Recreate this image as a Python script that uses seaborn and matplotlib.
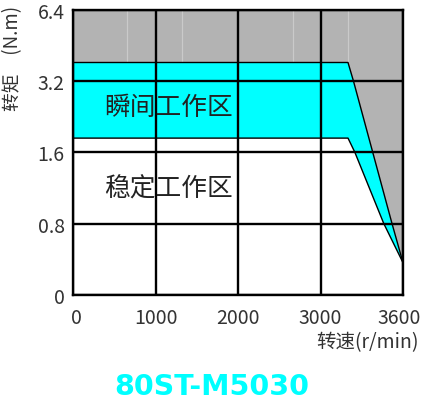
import numpy as np
import seaborn as sns
from matplotlib import pyplot as plt
from matplotlib import transforms

# tick values (axes are spaced evenly between these)
speed_ticks = [0, 1000, 2000, 3000, 3600]
torque_ticks = [0, 0.8, 1.6, 3.2, 6.4]

# peak torque curve (top of the cyan band)
speed_peak = [0, 3200, 3240, 3380, 3520, 3600]
torque_peak = [4.04, 4.04, 3.2, 1.6, 0.8, 0.36]

# rated torque curve (bottom of the cyan band)
speed_rated = [0, 3200, 3250, 3460, 3600]
torque_rated = [1.92, 1.92, 1.6, 0.8, 0.36]

# faint light streaks in the grey area
streak_speed = [655, 1320, 2667, 3200]

zone_peak = '瞬间工作区'
zone_rated = '稳定工作区'
model = '80ST-M5030'


def piecewise(ticks):
    idx = np.arange(len(ticks), dtype=float)
    fwd = lambda v: np.interp(v, ticks, idx)
    inv = lambda v: np.interp(v, idx, ticks)
    return fwd, inv


sns.set_style('white')
plt.rcParams['font.family'] = ['Noto Sans CJK SC', 'DejaVu Sans']

fig = plt.figure(figsize=(4.22, 4.02), dpi=100)
ax = fig.add_axes([73 / 422, 1 - 295.7 / 402, 330 / 422, 284.7 / 402])
ax.set_xscale('function', functions=piecewise(speed_ticks))
ax.set_yscale('function', functions=piecewise(torque_ticks))
ax.set_xlim(0, 3600)
ax.set_ylim(0, 6.4)

grey = '#b3b3b3'
cyan = '#00ffff'

# grey region above peak curve
ax.fill(speed_peak + [3600, 0], torque_peak + [6.4, 6.4], color=grey, lw=0, zorder=1)
# cyan band between the curves
ax.fill(speed_peak + speed_rated[::-1], torque_peak + torque_rated[::-1],
        color=cyan, lw=0, zorder=1)
for s in streak_speed:
    ax.plot([s, s], [4.1, 6.4], color='#cacaca', lw=0.9, zorder=1.5)

ax.plot(speed_peak, torque_peak, color='black', lw=1.0, zorder=3)
ax.plot(speed_rated, torque_rated, color='black', lw=1.0, zorder=3)

ax.set_xticks(speed_ticks)
ax.set_yticks(torque_ticks)
ax.set_xticklabels([str(v) for v in speed_ticks])
ax.set_yticklabels(['0', '0.8', '1.6', '3.2', '6.4'])
ax.grid(True, color='black', lw=1.7, zorder=2)
ax.set_axisbelow(False)
ax.tick_params(length=0, labelsize=14, labelcolor='#333333', pad=6)
ax.tick_params(axis='x', pad=9)
for sp in ax.spines.values():
    sp.set_color('black')
    sp.set_linewidth(1.7)
    sp.set_zorder(4)

# nudge first / last x labels like the original
xl = ax.get_xticklabels()
xl[0].set_transform(xl[0].get_transform() + transforms.ScaledTranslation(3 / 100, 0, fig.dpi_scale_trans))
xl[-1].set_transform(xl[-1].get_transform() + transforms.ScaledTranslation(-4 / 100, 0, fig.dpi_scale_trans))

ax.text(0.094, 0.66, zone_peak, transform=ax.transAxes, fontsize=18.5,
        color='#222222', ha='left', va='center', zorder=5)
ax.text(0.094, 0.374, zone_rated, transform=ax.transAxes, fontsize=18.5,
        color='#222222', ha='left', va='center', zorder=5)

fig.text(13 / 422, 1 - 111 / 402, '转矩\u3000(N.m)', rotation=90, fontsize=13.5,
         color='#333333', ha='center', va='bottom')
fig.text(419 / 422, 1 - 343 / 402, '转速(r/min)', fontsize=14,
         color='#333333', ha='right', va='center')
fig.text(212 / 422, 1 - 387 / 402, model, fontsize=20.5, fontweight='bold',
         color=cyan, ha='center', va='center', family=['DejaVu Sans'])

fig.savefig('out.png', dpi=100)
